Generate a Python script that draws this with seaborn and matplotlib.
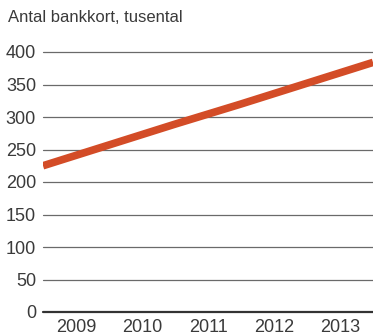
import matplotlib
matplotlib.use("Agg")
import matplotlib.pyplot as plt
import seaborn as sns
import pandas as pd

# year-end values (thousands of cards)
year_end = [2008, 2009, 2010, 2011, 2012, 2013]
cards = [225, 257, 289, 320, 352, 384]
year_labels = ["2009", "2010", "2011", "2012", "2013"]
y_ticks = [0, 50, 100, 150, 200, 250, 300, 350, 400]

sns.set_theme(style="white")
plt.rcParams['font.family'] = ['Liberation Sans', 'DejaVu Sans']

df = pd.DataFrame({"year": year_end, "cards": cards})

fig = plt.figure(figsize=(3.73, 3.36), dpi=100)
ax = fig.add_axes([43 / 373, 24 / 336, 330 / 373, 260 / 336])

for t in y_ticks:
    ax.axhline(t, color="#333333" if t == 0 else "#6a6a6a",
               lw=1.6 if t == 0 else 0.9, clip_on=False, zorder=1)

sns.lineplot(data=df, x="year", y="cards", ax=ax, color="#D34C27",
             linewidth=5.5, zorder=3, solid_capstyle="butt")

ax.set_xlim(2008, 2013)
ax.set_ylim(0, 400)
ax.set_xticks([y + 0.5 for y in year_end[:-1]])
ax.set_xticklabels(year_labels)
ax.set_yticks(y_ticks)
ax.tick_params(axis="both", length=0, labelsize=13, colors="#3a3a3a")
ax.tick_params(axis="y", pad=5)
ax.tick_params(axis="x", pad=5)
ax.set_xlabel("")
ax.set_ylabel("")
for s in ax.spines.values():
    s.set_visible(False)

fig.text(8 / 373, 1 - 18 / 336, "Antal bankkort, tusental", fontsize=12,
         color="#3a3a3a", va="center", ha="left")

fig.savefig("out.png", dpi=100)
plt.close(fig)
